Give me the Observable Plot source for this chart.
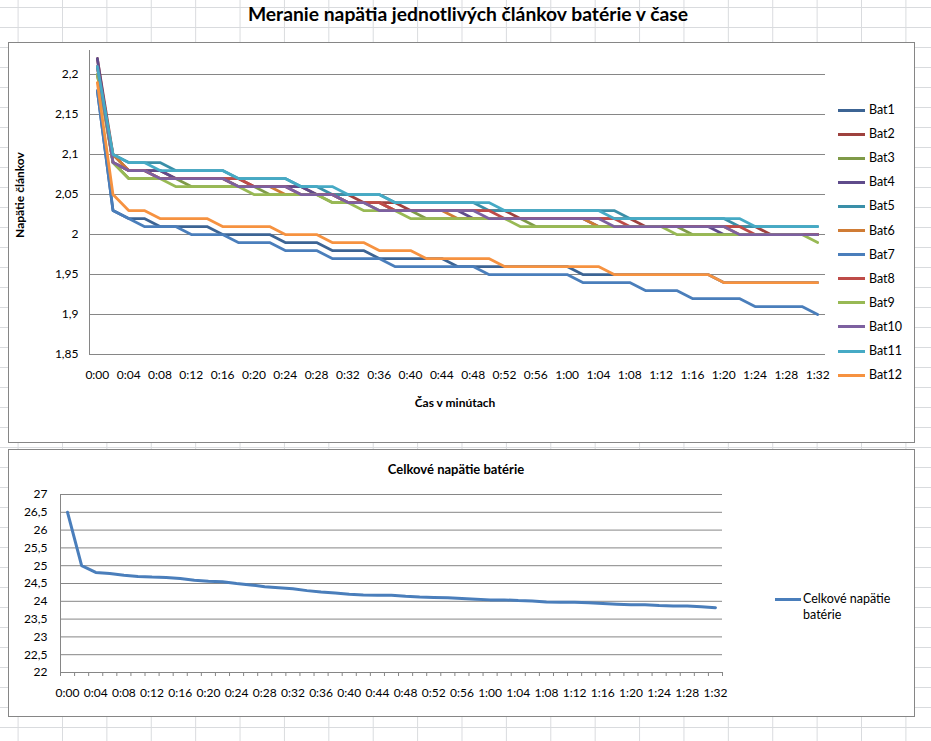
<!DOCTYPE html>
<html>
<head>
<meta charset="utf-8">
<script src="https://cdn.jsdelivr.net/npm/d3@7"></script>
<script src="https://cdn.jsdelivr.net/npm/@observablehq/plot@0.6"></script>
<style>
  html, body { margin: 0; padding: 0; }
  body {
    width: 931px; height: 741px; position: relative; overflow: hidden;
    font-family: Lato, "Liberation Sans", sans-serif; color: #000;
    background-color: #fff;
    background-image:
      linear-gradient(to right, #d9dbde 1px, transparent 1px),
      linear-gradient(to bottom, #d9dbde 1px, transparent 1px);
    background-size: 44.4px 20px;
    background-position: 17.6px 7px;
  }
  .abs { position: absolute; }
  .frame { position: absolute; box-sizing: border-box; border: 1px solid #868686; background: #fff; }
  .title { left: 0; top: 3px; width: 936px; text-align: center; font-weight: bold; font-size: 19.3px; line-height: 22px; }
  .leg { position: absolute; font-size: 12.5px; line-height: 16px; white-space: nowrap; }
  .legline { position: absolute; height: 3px; }
</style>
</head>
<body>
<div class="abs title">Meranie napätia jednotlivých článkov batérie v čase</div>
<div class="frame" id="top" style="left:8px; top:42px; width:907px; height:401px;"></div>
<div class="frame" id="bottom" style="left:8px; top:449px; width:907px; height:268px;"></div>
<div id="overlay"></div>
<script>
// ---------- data ----------
const times = ["0:00","0:02","0:04","0:06","0:08","0:10","0:12","0:14","0:16","0:18",
  "0:20","0:22","0:24","0:26","0:28","0:30","0:32","0:34","0:36","0:38",
  "0:40","0:42","0:44","0:46","0:48","0:50","0:52","0:54","0:56","0:58",
  "1:00","1:02","1:04","1:06","1:08","1:10","1:12","1:14","1:16","1:18",
  "1:20","1:22","1:24","1:26","1:28","1:30","1:32"];

const batNames = ["Bat1","Bat2","Bat3","Bat4","Bat5","Bat6","Bat7","Bat8","Bat9","Bat10","Bat11","Bat12"];
const batColors = ["#3C6494","#9E413E","#7F9A48","#5F4B8B","#3A8FA8","#D07C35",
                   "#4A7EBB","#BE4B48","#98B954","#7D60A0","#46AAC5","#F69240"];

const bat1 = [2.18,2.03,2.02,2.02,2.01,2.01,2.01,2.01,2.00,2.00,2.00,2.00,1.99,1.99,1.99,1.98,1.98,1.98,1.97,1.97,1.97,1.97,1.97,1.96,1.96,1.96,1.96,1.96,1.96,1.96,1.96,1.95,1.95,1.95,1.95,1.95,1.95,1.95,1.95,1.95,1.94,1.94,1.94,1.94,1.94,1.94,1.94];
const bat2 = [2.22,2.10,2.08,2.08,2.08,2.07,2.07,2.07,2.07,2.07,2.06,2.06,2.06,2.06,2.05,2.05,2.05,2.04,2.04,2.04,2.03,2.03,2.03,2.03,2.03,2.03,2.03,2.02,2.02,2.02,2.02,2.02,2.02,2.02,2.02,2.01,2.01,2.01,2.01,2.01,2.01,2.01,2.01,2.00,2.00,2.00,2.00];
const bat3 = [2.21,2.09,2.07,2.07,2.07,2.07,2.06,2.06,2.06,2.06,2.06,2.05,2.05,2.05,2.05,2.04,2.04,2.04,2.03,2.03,2.03,2.02,2.02,2.02,2.02,2.02,2.02,2.02,2.01,2.01,2.01,2.01,2.01,2.01,2.01,2.01,2.01,2.01,2.00,2.00,2.00,2.00,2.00,2.00,2.00,2.00,2.00];
const bat4 = [2.22,2.09,2.08,2.08,2.08,2.07,2.07,2.07,2.07,2.06,2.06,2.06,2.06,2.06,2.05,2.05,2.04,2.04,2.04,2.03,2.03,2.03,2.03,2.03,2.02,2.02,2.02,2.02,2.02,2.02,2.02,2.02,2.01,2.01,2.01,2.01,2.01,2.01,2.01,2.01,2.00,2.00,2.00,2.00,2.00,2.00,2.00];
const bat5 = [2.20,2.10,2.09,2.09,2.09,2.08,2.08,2.08,2.08,2.07,2.07,2.07,2.07,2.06,2.06,2.05,2.05,2.05,2.05,2.04,2.04,2.04,2.04,2.04,2.04,2.03,2.03,2.03,2.03,2.03,2.03,2.03,2.03,2.03,2.02,2.02,2.02,2.02,2.02,2.02,2.02,2.01,2.01,2.01,2.01,2.01,2.01];
const bat6 = [2.20,2.10,2.08,2.08,2.07,2.07,2.07,2.07,2.07,2.06,2.06,2.06,2.05,2.05,2.05,2.05,2.04,2.04,2.04,2.03,2.03,2.03,2.03,2.02,2.02,2.02,2.02,2.02,2.02,2.02,2.02,2.02,2.01,2.01,2.01,2.01,2.01,2.01,2.01,2.01,2.01,2.00,2.00,2.00,2.00,2.00,2.00];
const bat7 = [2.18,2.03,2.02,2.01,2.01,2.01,2.00,2.00,2.00,1.99,1.99,1.99,1.98,1.98,1.98,1.97,1.97,1.97,1.97,1.96,1.96,1.96,1.96,1.96,1.96,1.95,1.95,1.95,1.95,1.95,1.95,1.94,1.94,1.94,1.94,1.93,1.93,1.93,1.92,1.92,1.92,1.92,1.91,1.91,1.91,1.91,1.90];
const bat8 = [2.21,2.09,2.08,2.08,2.07,2.07,2.07,2.07,2.07,2.07,2.06,2.06,2.06,2.05,2.05,2.05,2.04,2.04,2.04,2.03,2.03,2.03,2.03,2.03,2.03,2.03,2.02,2.02,2.02,2.02,2.02,2.02,2.02,2.02,2.01,2.01,2.01,2.01,2.01,2.01,2.01,2.01,2.00,2.00,2.00,2.00,2.00];
const bat9 = [2.20,2.09,2.07,2.07,2.07,2.06,2.06,2.06,2.06,2.06,2.05,2.05,2.05,2.05,2.05,2.04,2.04,2.03,2.03,2.03,2.02,2.02,2.02,2.02,2.02,2.02,2.02,2.01,2.01,2.01,2.01,2.01,2.01,2.01,2.01,2.01,2.01,2.00,2.00,2.00,2.00,2.00,2.00,2.00,2.00,2.00,1.99];
const bat10 = [2.21,2.09,2.08,2.08,2.07,2.07,2.07,2.07,2.07,2.06,2.06,2.06,2.06,2.05,2.05,2.05,2.04,2.04,2.03,2.03,2.03,2.03,2.03,2.03,2.03,2.02,2.02,2.02,2.02,2.02,2.02,2.02,2.02,2.01,2.01,2.01,2.01,2.01,2.01,2.01,2.01,2.00,2.00,2.00,2.00,2.00,2.00];
const bat11 = [2.21,2.10,2.09,2.09,2.08,2.08,2.08,2.08,2.08,2.07,2.07,2.07,2.07,2.06,2.06,2.06,2.05,2.05,2.05,2.04,2.04,2.04,2.04,2.04,2.04,2.04,2.03,2.03,2.03,2.03,2.03,2.03,2.03,2.02,2.02,2.02,2.02,2.02,2.02,2.02,2.02,2.02,2.01,2.01,2.01,2.01,2.01];
const bat12 = [2.19,2.05,2.03,2.03,2.02,2.02,2.02,2.02,2.01,2.01,2.01,2.01,2.00,2.00,2.00,1.99,1.99,1.99,1.98,1.98,1.98,1.97,1.97,1.97,1.97,1.97,1.96,1.96,1.96,1.96,1.96,1.96,1.96,1.95,1.95,1.95,1.95,1.95,1.95,1.95,1.94,1.94,1.94,1.94,1.94,1.94,1.94];

const total = [26.50,25.00,24.81,24.78,24.73,24.70,24.68,24.67,24.64,24.59,24.56,24.55,24.50,24.46,24.41,24.38,24.35,24.30,24.26,24.23,24.20,24.18,24.17,24.17,24.14,24.12,24.11,24.10,24.08,24.06,24.04,24.04,24.02,24.01,23.98,23.97,23.97,23.96,23.94,23.92,23.90,23.90,23.88,23.87,23.87,23.85,23.82];

const yTicksTop = [1.85, 1.9, 1.95, 2, 2.05, 2.1, 2.15, 2.2];
const yTicksBottom = [22, 22.5, 23, 23.5, 24, 24.5, 25, 25.5, 26, 26.5, 27];
const totalName = "Celkové napätie batérie";

// ---------- build ----------
const series = [bat1,bat2,bat3,bat4,bat5,bat6,bat7,bat8,bat9,bat10,bat11,bat12];
const rows = [];
series.forEach((s, k) => s.forEach((v, i) => rows.push({bat: batNames[k], i, v})));
const totalRows = total.map((v, i) => ({i, v}));
const labelIdx = times.map((t, i) => i).filter(i => i % 2 === 0);
const fmt = d => String(d).replace(".", ",");
const font = {fontFamily: "Lato, 'Liberation Sans', sans-serif", fontSize: "12px", color: "#000", background: "transparent", overflow: "visible"};

const topChart = Plot.plot({
  width: 830, height: 398,
  marginLeft: 80, marginRight: 14, marginTop: 7, marginBottom: 87,
  style: font,
  x: {type: "linear", domain: [-0.5, 46.5]},
  y: {domain: [1.85, 2.23]},
  color: {domain: batNames, range: batColors},
  marks: [
    Plot.ruleY(yTicksTop, {stroke: "#868686", strokeWidth: 1}),
    Plot.ruleX([-0.5], {stroke: "#868686", strokeWidth: 1}),
    Plot.axisY(yTicksTop, {tickSize: 0, tickPadding: 11, tickFormat: fmt, label: null}),
    Plot.axisX(labelIdx, {tickSize: 0, tickPadding: 16, tickFormat: i => times[i], label: null}),
    Plot.line(rows, {x: "i", y: "v", z: "bat", stroke: "bat", strokeWidth: 2.75, strokeLinejoin: "round", strokeLinecap: "round"})
  ]
});
topChart.style.position = "absolute"; topChart.style.left = "0px"; topChart.style.top = "0px";
document.getElementById("top").appendChild(topChart);

const bottomChart = Plot.plot({
  width: 730, height: 262,
  marginLeft: 51, marginRight: 17, marginTop: 44, marginBottom: 40,
  style: font,
  x: {type: "linear", domain: [-0.5, 46.5]},
  y: {domain: [22, 27]},
  marks: [
    Plot.ruleY(yTicksBottom, {stroke: "#868686", strokeWidth: 1}),
    Plot.ruleX([-0.5], {stroke: "#868686", strokeWidth: 1}),
    Plot.axisY(yTicksBottom, {tickSize: 0, tickPadding: 13, tickFormat: fmt, label: null}),
    Plot.axisX(d3.range(-0.5, 47, 1), {tickSize: 4, tickFormat: () => "", stroke: "#868686", label: null}),
    Plot.axisX(labelIdx, {tickSize: 0, tickPadding: 16, tickFormat: i => times[i], label: null}),
    Plot.line(totalRows, {x: "i", y: "v", stroke: "#4A7EBB", strokeWidth: 3, strokeLinejoin: "round"})
  ]
});
bottomChart.style.position = "absolute"; bottomChart.style.left = "0px"; bottomChart.style.top = "0px";
document.getElementById("bottom").appendChild(bottomChart);

// ---------- titles & legends (HTML) ----------
const ov = document.getElementById("overlay");
function add(html, css) {
  const d = document.createElement("div");
  d.className = "abs";
  d.innerHTML = html;
  Object.assign(d.style, css);
  ov.appendChild(d);
  return d;
}
add("Napätie článkov", {left: "19px", top: "195px", transform: "translate(-50%,-50%) rotate(-90deg)", fontWeight: "bold", fontSize: "12px", whiteSpace: "nowrap"});
add("Čas v minútach", {left: "455px", top: "402px", transform: "translate(-50%,-50%)", fontWeight: "bold", fontSize: "12px", whiteSpace: "nowrap"});
add("Celkové napätie batérie", {left: "456px", top: "469px", transform: "translate(-50%,-50%)", fontWeight: "bold", fontSize: "13px", whiteSpace: "nowrap"});

batNames.forEach((name, k) => {
  const y = 110 + k * 24.1;
  const l = document.createElement("div");
  l.className = "legline";
  Object.assign(l.style, {left: "838px", top: (y - 1.5) + "px", width: "27px", background: batColors[k]});
  ov.appendChild(l);
  const t = document.createElement("div");
  t.className = "leg";
  t.textContent = name;
  Object.assign(t.style, {left: "869px", top: (y - 8) + "px"});
  ov.appendChild(t);
});
const bl = document.createElement("div");
bl.className = "legline";
Object.assign(bl.style, {left: "775px", top: "597.5px", width: "26px", background: "#4A7EBB"});
ov.appendChild(bl);
const bt = document.createElement("div");
bt.className = "leg";
bt.textContent = totalName;
Object.assign(bt.style, {left: "803px", top: "591px", width: "100px", whiteSpace: "normal"});
ov.appendChild(bt);
</script>
</body>
</html>
